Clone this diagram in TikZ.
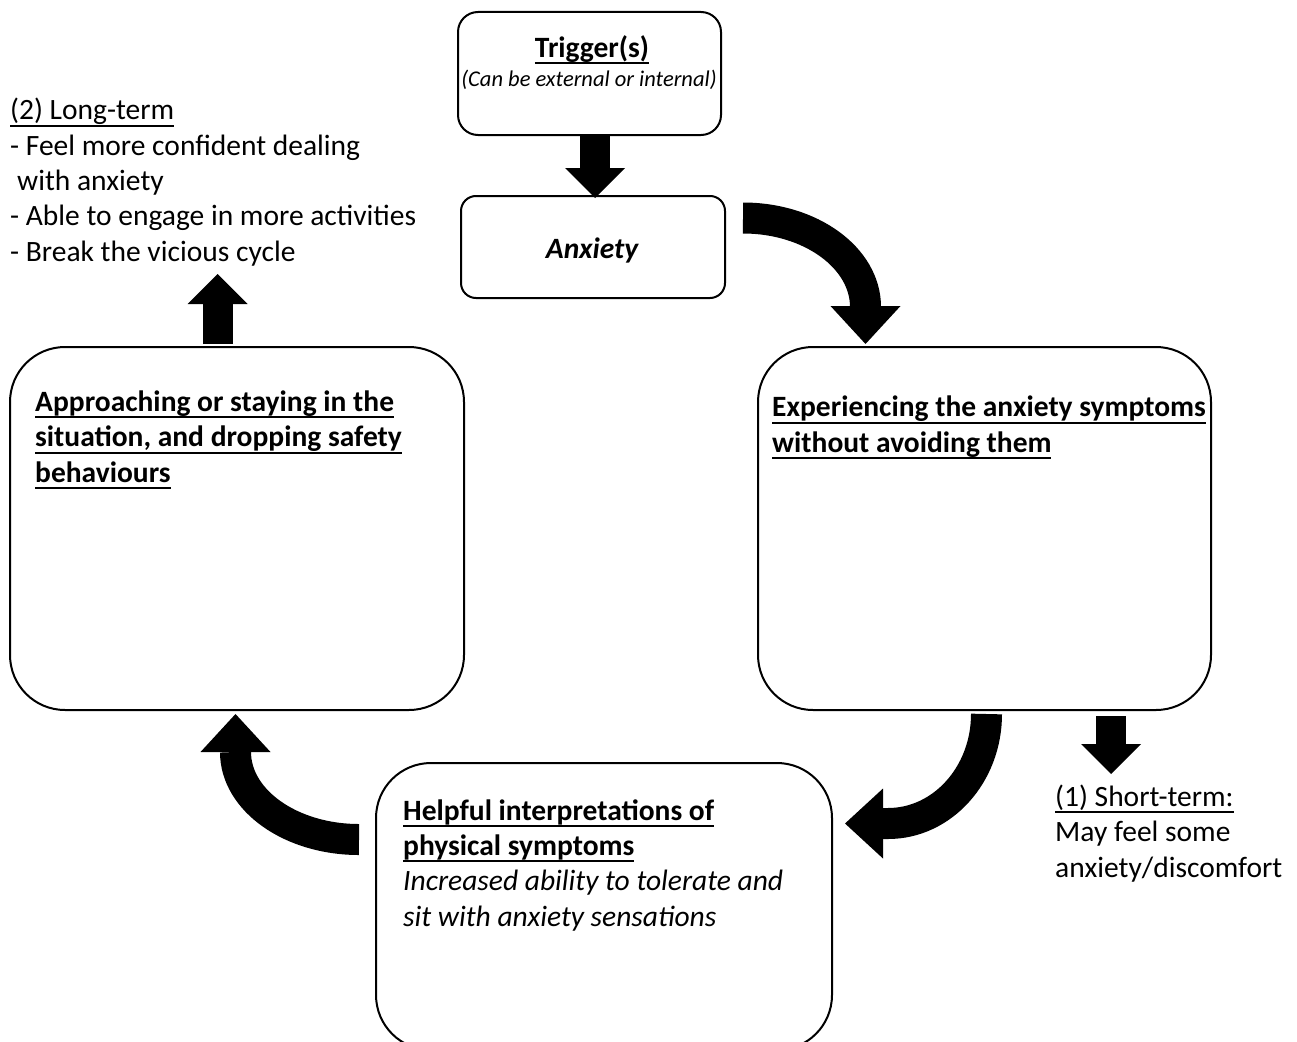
\documentclass[tikz,border=0pt]{standalone}
\usepackage{fontspec}
\setmainfont{Carlito}
\usetikzlibrary{arrows.meta, positioning, calc}
\newcommand{\uln}[1]{\sbox0{#1}\rlap{\rule[-7pt]{\wd0}{2.2pt}}\usebox0}

\begin{document}
\begin{tikzpicture}[
    x=1pt, y=1pt,
    box/.style={draw, line width=2pt, rounded corners=#1, inner sep=0pt},
    lbl/.style={inner sep=0pt, align=left, font=\fontsize{29.5}{35.3}\selectfont},
    fatarrow/.style={line width=30pt, -{Triangle[width=60pt, length=30pt, line width=0pt]}},
    bendarrow/.style={line width=31pt, -{Triangle[width=70pt, length=38pt, line width=0pt]}}
]
    \useasboundingbox (0,0) rectangle (1297,-1041);

    % Boxes
    \node[box=20pt, minimum width=263pt, minimum height=123pt] (trig) at (589.5,-73.5) {};
    \node[box=15pt, minimum width=264pt, minimum height=102pt] (anx) at (593,-247) {};
    \node[box=55pt, minimum width=453pt, minimum height=363pt] (exper) at (984.5,-528.5) {};
    \node[box=55pt, minimum width=456pt, minimum height=287pt] (help) at (604,-906.5) {};
    \node[box=55pt, minimum width=454pt, minimum height=363pt] (appr) at (237,-528.5) {};

    % Texts (anchored on the baseline of the last line)
    \node[lbl, anchor=base] (trigt) at (592,-57) {\uln{\textbf{Trigger(s)}}};
    \node[lbl, anchor=base, font=\fontsize{22.5}{26}\selectfont\itshape] (trigs) at (589,-86) {(Can be external or internal)};
    \node[lbl, anchor=base] (anxt) at (592.5,-258) {\textbf{\textit{Anxiety}}};
    \node[lbl, anchor=base west] (expert) at ([shift={(15,-106)}]exper.north west)
        {\uln{\textbf{Experiencing the anxiety symptoms}}\\\uln{\textbf{without avoiding them}}};
    \node[lbl, anchor=base west] (helpt) at ([shift={(28,-164)}]help.north west)
        {\uln{\textbf{Helpful interpretations of}}\\\uln{\textbf{physical symptoms}}\\
         \textit{Increased ability to tolerate and}\\\textit{sit with anxiety sensations}};
    \node[lbl, anchor=base west] (apprt) at ([shift={(26,-136)}]appr.north west)
        {\uln{\textbf{Approaching or staying in the}}\\\uln{\textbf{situation, and dropping safety}}\\\uln{\textbf{behaviours}}};
    \node[lbl, anchor=base west] (lterm) at (10,-261)
        {\uln{(2) Long-term}\\- Feel more confident dealing\\\hspace{7pt}with anxiety\\- Able to engage in more activities\\- Break the vicious cycle};
    \node[lbl, anchor=base west] (sterm) at (1055,-877)
        {\uln{(1) Short-term:}\\May feel some\\anxiety/discomfort};

    % Arrows
    \draw[fatarrow] ([xshift=5.5pt]trig.south) -- ([xshift=2pt,yshift=-3pt]anx.north);
    \draw[bendarrow] ([shift={(17,29)}]anx.east) arc[start angle=90, end angle=0, x radius=122.5, y radius=89] -- ++(0,-37);
    \draw[bendarrow] ([shift={(2,-3)}]exper.south) arc[start angle=0, end angle=-90, x radius=98.5, y radius=109.5] -- ++(-43,0);
    \draw[bendarrow] ([shift={(-16,67)}]help.west) arc[start angle=270, end angle=180, x radius=123.5, y radius=87.5] -- ++(0,38);
    \draw[fatarrow] ([xshift=-19.5pt,yshift=2pt]appr.north) -- ++(0,70);
    \draw[fatarrow] ([xshift=126.5pt,yshift=-5pt]exper.south) -- ++(0,-58);
\end{tikzpicture}
\end{document}
